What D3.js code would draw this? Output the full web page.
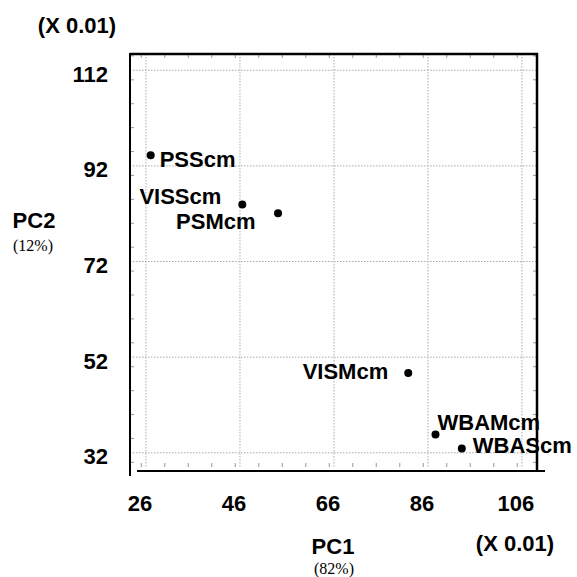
<!DOCTYPE html>
<html><head><meta charset="utf-8">
<script src="https://cdn.jsdelivr.net/npm/d3@7"></script>
<style>body{margin:0;background:#fff}svg{display:block}</style>
</head><body>
<script>
const labels = ["PSScm","VISScm","PSMcm","VISMcm","WBAMcm","WBAScm"];
const pc1 = [27.0, 46.5, 54.1, 81.8, 87.6, 93.2];
const pc2 = [94.2, 83.9, 82.1, 48.7, 35.8, 32.9];
const xTicks = [26, 46, 66, 86, 106];
const yTicks = [32, 52, 72, 92, 112];
// label placement: [dx, dy, anchor]
const labelPos = [[9,12,"start"],[-21,-1,"end"],[-102,16,"start"],[-20,6,"end"],[2,-5,"start"],[11,5,"start"]];

const W=577,H=577;
const svg=d3.select("body").append("svg").attr("width",W).attr("height",H);
const font="'Liberation Sans', Arial, sans-serif";
const serif="'Liberation Serif', 'Times New Roman', serif";
const x=d3.scaleLinear().domain([22.6,109.2]).range([130,537]);
const y=d3.scaleLinear().domain([28.4,115.4]).range([470,54]);
const x0=130,x1=537,y0=54,yb=471;

// grid
const g=svg.append("g");
g.selectAll(".gx").data(xTicks).join("line")
 .attr("x1",d=>x(d)).attr("x2",d=>x(d)).attr("y1",y0).attr("y2",yb-3)
 .attr("stroke","#aaa").attr("stroke-width",1).attr("stroke-dasharray","1.5,1.5");
g.selectAll(".gy").data(yTicks).join("line")
 .attr("y1",d=>y(d)).attr("y2",d=>y(d)).attr("x1",x0).attr("x2",x1)
 .attr("stroke","#aaa").attr("stroke-width",1).attr("stroke-dasharray","1.5,1.5");

// minor ticks every 5
const minorX=d3.range(25,110,5), minorY=d3.range(30,116,5);
const tk=svg.append("g").attr("stroke","#999").attr("stroke-width",1);
tk.selectAll(".tl").data(minorY).join("line").attr("x1",x0).attr("x2",x0+4).attr("y1",d=>y(d)).attr("y2",d=>y(d));
tk.selectAll(".tr").data(minorY).join("line").attr("x1",x1-4).attr("x2",x1).attr("y1",d=>y(d)).attr("y2",d=>y(d));
tk.selectAll(".tt").data(minorX).join("line").attr("y1",y0).attr("y2",y0+4).attr("x1",d=>x(d)).attr("x2",d=>x(d));
tk.selectAll(".tb").data(minorX).join("line").attr("y1",yb-8).attr("y2",yb-4).attr("x1",d=>x(d)).attr("x2",d=>x(d));

// frame lines
const fr=svg.append("g").attr("stroke","#000").attr("fill","none");
fr.append("line").attr("x1",x0).attr("x2",x0).attr("y1",y0-1).attr("y2",yb+5).attr("stroke-width",2);
fr.append("line").attr("x1",x0).attr("x2",x1+1).attr("y1",y0).attr("y2",y0).attr("stroke-width",2.5);
fr.append("line").attr("x1",x1).attr("x2",x1).attr("y1",y0-1).attr("y2",yb).attr("stroke-width",2.5);
fr.append("line").attr("x1",x0+7).attr("x2",x1+8).attr("y1",yb).attr("y2",yb).attr("stroke-width",2);

// axes labels
const ax=svg.append("g").attr("transform",`translate(${x0},0)`)
 .call(d3.axisLeft(y).tickValues(yTicks).tickSize(0).tickPadding(22));
const bx=svg.append("g").attr("transform",`translate(-6.5,${yb})`)
 .call(d3.axisBottom(x).tickValues(xTicks).tickSize(0).tickPadding(24));
[ax,bx].forEach(a=>{a.select(".domain").remove();
 a.selectAll("text").attr("font-family",font).attr("font-weight","bold").attr("font-size",22).attr("fill","#000");});
ax.selectAll("text").attr("dy","0.5em");

const bold=(t,xx,yy)=>svg.append("text").attr("x",xx).attr("y",yy).attr("text-anchor","middle")
 .attr("font-family",font).attr("font-weight","bold").attr("font-size",22).text(t);
const ser=(t,xx,yy)=>svg.append("text").attr("x",xx).attr("y",yy).attr("text-anchor","middle")
 .attr("font-family",serif).attr("font-size",16).text(t);

// multipliers
bold("(X 0.01)",77,33);
bold("(X 0.01)",515,551);
// titles
bold("PC1",333,554);
ser("(82%)",334,574);
bold("PC2",34,228);
ser("(12%)",33,251);

// points
const pts=labels.map((l,i)=>({l,x:pc1[i],y:pc2[i],p:labelPos[i]}));
svg.selectAll(".pt").data(pts).join("circle").attr("cx",d=>x(d.x)).attr("cy",d=>y(d.y)).attr("r",4).attr("fill","#000");
svg.selectAll(".lb").data(pts).join("text")
 .attr("x",d=>x(d.x)+d.p[0]).attr("y",d=>y(d.y)+d.p[1]).attr("text-anchor",d=>d.p[2])
 .attr("font-family",font).attr("font-weight","bold").attr("font-size",22).text(d=>d.l);
</script>
</body></html>
